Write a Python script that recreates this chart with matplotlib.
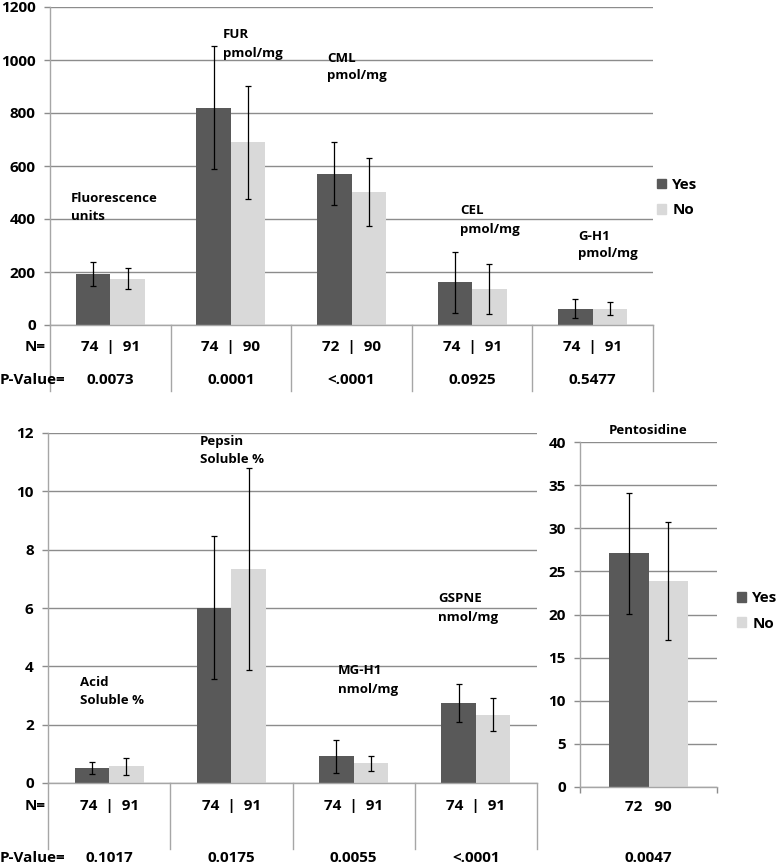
#%% importing modules
import matplotlib
matplotlib.use('Agg')
import numpy as np
import matplotlib.pyplot as plt
import matplotlib.transforms as mtransforms
from matplotlib.patches import Patch

#%% data
top_labels = ['Fluorescence\nunits', 'FUR\npmol/mg', 'CML\npmol/mg', 'CEL\npmol/mg', 'G-H1\npmol/mg']
top_yes = [192, 820, 570, 161, 62]
top_yes_err = [46, 233, 119, 115, 35]
top_no = [175, 689, 502, 135, 62]
top_no_err = [40, 213, 130, 95, 25]
top_n = ['74  |  91', '74  |  90', '72  |  90', '74  |  91', '74  |  91']
top_p = ['0.0073', '0.0001', '<.0001', '0.0925', '0.5477']

bot_labels = ['Acid\nSoluble %', 'Pepsin\nSoluble %', 'MG-H1\nnmol/mg', 'GSPNE\nnmol/mg']
bot_yes = [0.51, 6.01, 0.91, 2.74]
bot_yes_err = [0.21, 2.45, 0.56, 0.66]
bot_no = [0.57, 7.34, 0.68, 2.34]
bot_no_err = [0.28, 3.46, 0.26, 0.57]
bot_n = ['74  |  91', '74  |  91', '74  |  91', '74  |  91']
bot_p = ['0.1017', '0.0175', '0.0055', '<.0001']

pent_label = 'Pentosidine'
pent_yes = [27.1]
pent_yes_err = [7.0]
pent_no = [23.9]
pent_no_err = [6.8]
pent_n = ['72   90']
pent_p = ['0.0047']

#%% style
plt.rcParams['font.family'] = ['Open Sans', 'DejaVu Sans']
plt.rcParams['font.weight'] = 'bold'
DARK = '#595959'
LIGHT = '#d9d9d9'
GRID = '#8c8c8c'
LINE = '#a6a6a6'
FS_TICK = 11
FS_LAB = 9.5
W, H = 777, 864

fig = plt.figure(figsize=(W / 100, H / 100), dpi=100)


def box(l, t, r, b):
    # pixel box -> figure fraction
    return [l / W, 1 - b / H, (r - l) / W, (b - t) / H]


def fy(p):
    return 1 - p / H


def style_axes(ax, ymax, ystep):
    ax.set_ylim(0, ymax)
    ax.set_yticks(np.arange(0, ymax + ystep / 2, ystep))
    ax.yaxis.grid(True, color=GRID, lw=1)
    ax.set_axisbelow(True)
    for s in ['top', 'right']:
        ax.spines[s].set_visible(False)
    for s in ['left', 'bottom']:
        ax.spines[s].set_color(LINE)
        ax.spines[s].set_linewidth(1)
    ax.tick_params(axis='y', length=4.3, width=1, color=GRID, pad=6,
                   labelsize=FS_TICK)
    for t in ax.get_yticklabels():
        t.set_fontweight('bold')


def draw_bars(ax, yes, yes_err, no, no_err, w):
    x = np.arange(len(yes))
    ax.bar(x - w / 2, yes, w, color=DARK, zorder=2)
    ax.bar(x + w / 2, no, w, color=LIGHT, zorder=2)
    ax.errorbar(x - w / 2, yes, yerr=yes_err, fmt='none', ecolor='black',
                elinewidth=0.9, capsize=2.2, capthick=0.9, zorder=3)
    ax.errorbar(x + w / 2, no, yerr=no_err, fmt='none', ecolor='black',
                elinewidth=0.9, capsize=2.2, capthick=0.9, zorder=3)
    ax.set_xlim(-0.5, len(yes) - 0.5)


def draw_table(ax, n_txt, p_txt, y0, y1, yn, yp):
    tr = mtransforms.blended_transform_factory(ax.transData, fig.transFigure)
    k = len(n_txt)
    for xs in np.arange(-0.5, k, 1.0):
        ax.plot([xs, xs], [fy(y0), fy(y1)], color=LINE, lw=1,
                transform=tr, clip_on=False)
    for i in range(k):
        ax.text(i, fy(yn), n_txt[i], transform=tr, ha='center', va='center',
                fontsize=FS_TICK, fontweight='bold')
        ax.text(i, fy(yp), p_txt[i], transform=tr, ha='center', va='center',
                fontsize=FS_TICK, fontweight='bold')
    fig.text(46 / W, fy(yn), 'N=', ha='right', va='center', fontsize=FS_TICK,
             fontweight='bold')
    fig.text(0 / W, fy(yp), 'P-Value=', ha='left', va='center',
             fontsize=FS_TICK, fontweight='bold')


def legend_at(x, y):
    fig.legend(handles=[Patch(color=DARK, label='Yes'),
                        Patch(color=LIGHT, label='No')],
               loc='center left', bbox_to_anchor=(x / W, fy(y)),
               frameon=False, borderpad=0, borderaxespad=0,
               handlelength=0.6, handleheight=0.6, handletextpad=0.4,
               labelspacing=0.75, prop=dict(weight='bold', size=FS_TICK))


def add_labels(labels, pos):
    for lab, (px, py) in zip(labels, pos):
        fig.text(px / W, fy(py), lab, ha='left', va='center', fontsize=FS_LAB,
                 fontweight='bold', linespacing=1.5)


#%% top panel
ax1 = fig.add_axes(box(50, 7, 653, 325))
draw_bars(ax1, top_yes, top_yes_err, top_no, top_no_err, 0.286)
style_axes(ax1, 1200, 200)
ax1.set_xticks([])
draw_table(ax1, top_n, top_p, 325, 391, 347, 380)
add_labels(top_labels, [(71, 207), (223, 44), (327, 67), (460, 220), (578, 245)])
legend_at(657, 197.5)

#%% bottom panel
ax2 = fig.add_axes(box(48, 433, 537, 783))
draw_bars(ax2, bot_yes, bot_yes_err, bot_no, bot_no_err, 0.282)
style_axes(ax2, 12, 2)
ax2.set_xticks([])
draw_table(ax2, bot_n, bot_p, 783, 849, 806, 858)
add_labels(bot_labels, [(80, 691), (200, 450), (338, 680), (438, 608)])

#%% pentosidine panel
ax3 = fig.add_axes(box(580, 442, 717, 787))
draw_bars(ax3, pent_yes, pent_yes_err, pent_no, pent_no_err, 0.285)
style_axes(ax3, 40, 5)
ax3.set_xticks([-0.5, 0.5])
ax3.set_xticklabels([])
ax3.tick_params(axis='x', length=4.3, width=1, color=GRID)
ax3.set_title(pent_label, fontsize=FS_LAB, fontweight='bold', pad=6)
tr3 = mtransforms.blended_transform_factory(ax3.transData, fig.transFigure)
ax3.text(0, fy(807), pent_n[0], transform=tr3, ha='center', va='center',
         fontsize=FS_TICK, fontweight='bold')
ax3.text(0, fy(858), pent_p[0], transform=tr3, ha='center', va='center',
         fontsize=FS_TICK, fontweight='bold')
legend_at(737, 611)

fig.savefig('out.png', dpi=100)
